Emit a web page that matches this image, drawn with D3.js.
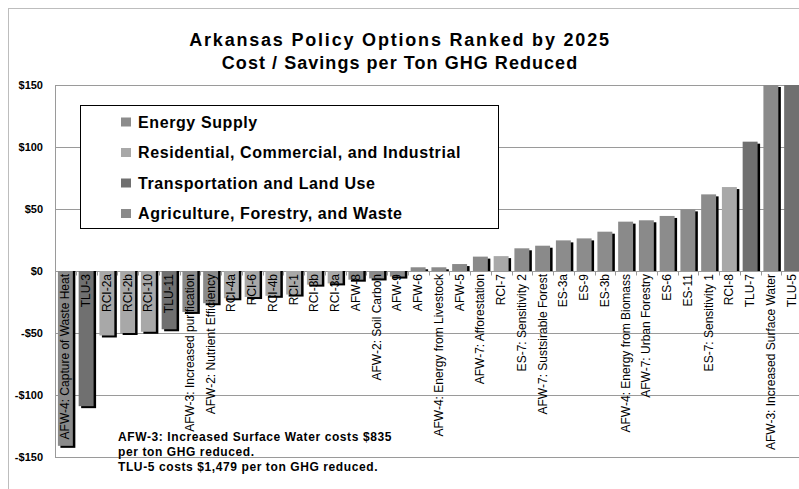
<!DOCTYPE html>
<html>
<head>
<meta charset="utf-8">
<script src="https://cdn.jsdelivr.net/npm/d3@7/dist/d3.min.js"></script>
<style>
  html, body { margin: 0; padding: 0; background: #fff; }
  svg { display: block; font-family: "Liberation Sans", Arial, sans-serif; }
</style>
</head>
<body>
<svg id="chart" width="799" height="489"></svg>
<script>
// ---- Data ----
const categories = [
  "AFW-4: Capture of Waste Heat", "TLU-3", "RCI-2a", "RCI-2b", "RCI-10", "TLU-11",
  "AFW-3: Increased purification", "AFW-2: Nutrient Efficiency", "RCI-4a", "RCI-6",
  "RCI-4b", "RCI-1", "RCI-3b", "RCI-3a", "AFW-8", "AFW-2: Soil Carbon", "AFW-9",
  "AFW-6", "AFW-4: Energy from Livestock", "AFW-5", "AFW-7: Afforestation", "RCI-7",
  "ES-7: Sensitivity 2", "AFW-7: Sustsirable Forest", "ES-3a", "ES-9", "ES-3b",
  "AFW-4: Energy from Biomass", "AFW-7: Urban Forestry", "ES-6", "ES-11",
  "ES-7: Sensitivity 1", "RCI-8", "TLU-7", "AFW-3: Increased Surface Water", "TLU-5"
];
const values = [
  -141, -109, -52, -50, -49, -47,
  -33, -26, -22, -21,
  -20, -19, -11, -10, -7, -6, -4.5,
  3, 3, 5.6, 11.6, 12,
  18.3, 20.4, 24.7, 26.3, 31.7,
  39.8, 40.9, 44.4, 49.7,
  61.8, 67.7, 104.3, 835, 1479
];
const sectors = [
  "AFW", "TLU", "RCI", "RCI", "RCI", "TLU",
  "AFW", "AFW", "RCI", "RCI",
  "RCI", "RCI", "RCI", "RCI", "AFW", "AFW", "AFW",
  "AFW", "AFW", "AFW", "AFW", "RCI",
  "ES", "AFW", "ES", "ES", "ES",
  "AFW", "AFW", "ES", "ES",
  "ES", "RCI", "TLU", "AFW", "TLU"
];
const sectorKeys = ["ES", "RCI", "TLU", "AFW"];
const sectorNames = [
  "Energy Supply",
  "Residential, Commercial, and Industrial",
  "Transportation and Land Use",
  "Agriculture, Forestry, and Waste"
];
const sectorColors = ["#8c8c8c", "#a8a8a8", "#707070", "#8a8a8a"];
const yTicks = [-150, -100, -50, 0, 50, 100, 150];
const titleLines = ["Arkansas Policy Options Ranked by 2025", "Cost / Savings per Ton GHG Reduced"];
const noteLines = [
  "AFW-3: Increased Surface Water costs $835",
  "per ton GHG reduced.",
  "TLU-5 costs $1,479 per ton GHG reduced."
];

// ---- Layout ----
const svg = d3.select("#chart");
const plot = { left: 55, right: 802, top: 85, bottom: 457 };

const color = d3.scaleOrdinal().domain(sectorKeys).range(sectorColors);
const x = d3.scaleBand().domain(categories).range([plot.left, plot.right]).paddingInner(0.28).paddingOuter(0.14);
const y = d3.scaleLinear().domain([-150, 150]).range([plot.bottom, plot.top]).clamp(true);

// outer border
svg.append("rect").attr("x", 8.5).attr("y", 8.5).attr("width", 820).attr("height", 500)
  .attr("fill", "none").attr("stroke", "#bdbdbd").attr("stroke-width", 1);

// title
const titleSpacing = [1.8, 1.05];
svg.append("g").selectAll("text").data(titleLines).join("text")
  .attr("x", 400).attr("y", (d, i) => 46 + i * 23)
  .attr("text-anchor", "middle").attr("font-size", 18).attr("font-weight", "bold")
  .attr("letter-spacing", (d, i) => titleSpacing[i]).attr("fill", "#000").text(d => d);

// grid lines
svg.append("g").selectAll("line").data(yTicks).join("line")
  .attr("x1", plot.left).attr("x2", 799)
  .attr("y1", d => Math.round(y(d)) + 0.5).attr("y2", d => Math.round(y(d)) + 0.5)
  .attr("stroke", "#9a9a9a").attr("stroke-width", 1);

// left axis line
svg.append("line").attr("x1", plot.left + 0.5).attr("x2", plot.left + 0.5)
  .attr("y1", plot.top).attr("y2", plot.bottom).attr("stroke", "#9a9a9a");

// y tick labels
svg.append("g").selectAll("text").data(yTicks).join("text")
  .attr("x", 43).attr("y", d => y(d) + 4)
  .attr("text-anchor", "end").attr("font-size", 11).attr("font-weight", "bold")
  .text(d => (d < 0 ? "-$" : "$") + Math.abs(d));

// category ticks on zero line
const y0 = Math.round(y(0)) + 0.5;
const bandStep = x.step();
svg.append("g").selectAll("line").data(categories).join("line")
  .attr("x1", d => Math.round(x(d) - x.paddingInner() * bandStep / 2) + 0.5)
  .attr("x2", d => Math.round(x(d) - x.paddingInner() * bandStep / 2) + 0.5)
  .attr("y1", y0).attr("y2", y0 + 4).attr("stroke", "#9a9a9a");

// legend box
const lg = svg.append("g");
lg.append("rect").attr("x", 80.5).attr("y", 105.5).attr("width", 418).attr("height", 123)
  .attr("fill", "#fff").attr("stroke", "#000").attr("stroke-width", 1);
const items = lg.selectAll("g.item").data(sectorKeys).join("g").attr("class", "item")
  .attr("transform", (d, i) => `translate(121, ${122 + i * 30.5})`);
items.append("rect").attr("x", 0).attr("y", -4.5).attr("width", 10).attr("height", 9)
  .attr("fill", d => color(d));
items.append("text").attr("x", 17).attr("y", 5.5).attr("font-size", 16).attr("font-weight", "bold")
  .attr("letter-spacing", 0.6)
  .text((d, i) => sectorNames[i]);

// bars
const bw = x.bandwidth();
const bars = svg.append("g");
const data = categories.map((c, i) => ({ c, v: values[i], s: sectors[i] }));
// shadows
bars.selectAll("rect.sh").data(data).join("rect").attr("class", "sh")
  .attr("x", d => x(d.c) + 2.5)
  .attr("y", d => d.v >= 0 ? y(d.v) + 2 : y(0))
  .attr("width", bw)
  .attr("height", d => d.v >= 0 ? Math.max(0, y(0) - y(d.v) - 2) : y(d.v) - y(0) + 2)
  .attr("fill", "#000");
bars.selectAll("rect.bar").data(data).join("rect").attr("class", "bar")
  .attr("x", d => x(d.c))
  .attr("y", d => y(Math.max(0, d.v)))
  .attr("width", bw)
  .attr("height", d => Math.abs(y(d.v) - y(0)))
  .attr("fill", d => color(d.s));

// category labels (rotated)
svg.append("g").selectAll("text").data(categories).join("text")
  .attr("transform", d => `translate(${x(d) + bw / 2}, 274) rotate(-90)`)
  .attr("dy", "0.33em").attr("text-anchor", "end").attr("font-size", 12)
  .attr("fill", "#000").text(d => d);

// note
svg.append("g").selectAll("text").data(noteLines).join("text")
  .attr("x", 118).attr("y", (d, i) => 441 + i * 15)
  .attr("font-size", 12).attr("font-weight", "bold").attr("letter-spacing", 0.6)
  .text(d => d);
</script>
</body>
</html>
